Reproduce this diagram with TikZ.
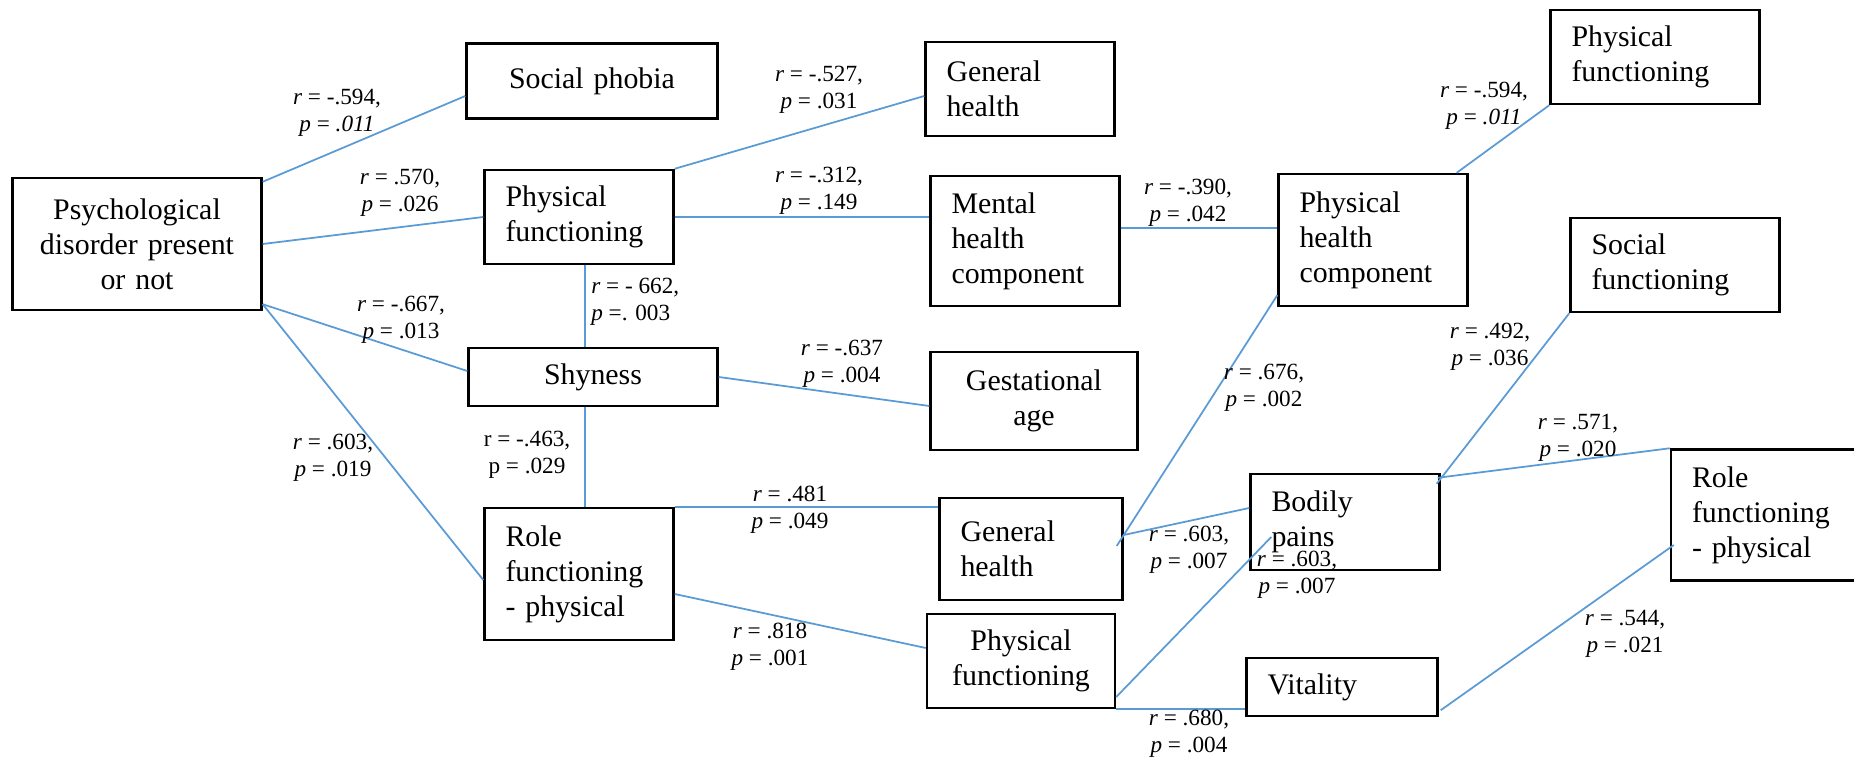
\documentclass[tikz,border=0pt]{standalone}
\usepackage{fontspec}
\setmainfont{Liberation Serif}
\usepackage{xcolor}
\usepackage{tikz}
\usetikzlibrary{positioning}
\definecolor{azul}{HTML}{5B9BD5}

\tikzset{
    caixa/.style={draw, line width=1.4pt, inner xsep=0.42cm, inner ysep=0pt, font=\fontsize{17}{19.9}\selectfont},
    esq/.style={caixa, align=left},
    cen/.style={caixa, align=center},
    rotulo/.style={inner sep=0pt, align=center, font=\fontsize{13.2}{15.3}\selectfont},
    ligacao/.style={azul, line width=1pt}
}

\begin{document}
\begin{tikzpicture}[x=0.02cm, y=-0.02cm]
            % Area da figura
            \useasboundingbox (0,0) rectangle (1854,759);
            \clip (0,0) rectangle (1854,759);

            % Caixas
            \node[cen, text width=4.14cm, minimum height=2.64cm] (psych) at (137,244) {Psychological\\disorder present\\or not};
            \node[cen, text width=4.18cm, minimum height=1.5cm] (social) at (592,81) {Social phobia};
            \node[esq, text width=2.94cm, minimum height=1.88cm] (pf1) at (579,217) {Physical\\functioning};
            \node[cen, text width=4.14cm, minimum height=1.16cm] (shy) at (593,377) {Shyness};
            \node[esq, text width=2.94cm, minimum height=2.64cm] (rfp1) at (579,574) {Role\\functioning\\- physical};
            \node[esq, text width=2.94cm, minimum height=1.88cm] (gh1) at (1020,89) {General\\health};
            \node[esq, text width=2.94cm, minimum height=2.6cm] (mhc) at (1025,241) {Mental\\health\\component};
            \node[cen, text width=3.3cm, minimum height=1.96cm] (ga) at (1034,401) {Gestational\\age};
            \node[esq, text width=2.82cm, minimum height=2.04cm] (gh2) at (1031,549) {General\\health};
            \node[cen, text width=2.92cm, minimum height=1.88cm] (pf2) at (1021,661) {Physical\\functioning};
            \node[esq, text width=2.94cm, minimum height=2.64cm] (phc) at (1373,240) {Physical\\health\\component};
            \node[esq, text width=3.34cm, minimum height=1.88cm] (pf3) at (1655,57) {Physical\\functioning};
            \node[esq, text width=3.34cm, minimum height=1.88cm] (sf) at (1675,265) {Social\\functioning};
            \node[esq, text width=2.94cm, minimum height=1.92cm] (bp) at (1345,522) {Bodily\\pains};
            \node[esq, text width=2.98cm, minimum height=1.16cm] (vit) at (1342,687) {Vitality};
            \node[esq, text width=2.96cm, minimum height=2.62cm] (rfp2) at (1766,515) {Role\\functioning\\- physical};

            % Pontos auxiliares
            \coordinate (m1) at ([shift={(0,-13)}]mhc.east);
            \coordinate (bpin) at ([shift={(22,15)}]bp.west);

            % Ligacoes
            \draw[ligacao] ([shift={(0,5)}]psych.north east) -- ([shift={(0,15)}]social.west);
            \draw[ligacao] (psych.east) -- (pf1.west);
            \draw[ligacao] ([shift={(0,-7)}]psych.south east) -- ([shift={(0,-6)}]shy.west);
            \draw[ligacao] ([shift={(0,-7)}]psych.south east) -- ([shift={(0,6)}]rfp1.west);
            \draw[ligacao] (pf1.north east) -- ([shift={(0,7)}]gh1.west);
            \draw[ligacao] (pf1.east) -- (pf1.east -| mhc.west);
            \draw[ligacao] ([shift={(6,0)}]pf1.south) -- ([shift={(6,0)}]shy.north -| pf1.south);
            \draw[ligacao] ([shift={(6,0)}]shy.south -| rfp1.north) -- ([shift={(6,0)}]rfp1.north);
            \draw[ligacao] (shy.east) -- ([shift={(0,5)}]ga.west);
            \draw[ligacao] (m1) -- (m1 -| phc.west);
            \draw[ligacao] ([shift={(-12,0)}]phc.north east) -- (pf3.south west);
            \draw[ligacao] ([shift={(-7,-3)}]gh2.east) -- ([shift={(0,-12)}]phc.south west);
            \draw[ligacao] ([shift={(0,-14)}]gh2.east) -- ([shift={(0,-14)}]bp.west);
            \draw[ligacao] (rfp1.north east) -- (rfp1.north east -| gh2.west);
            \draw[ligacao] ([shift={(0,20)}]rfp1.east) -- ([shift={(0,-13)}]pf2.west);
            \draw[ligacao] ([shift={(0,36)}]pf2.east) -- (bpin);
            \draw[ligacao] (pf2.south east) -- (pf2.south east -| vit.west);
            \draw[ligacao] ([shift={(-4,11)}]bp.north east) -- (sf.south west);
            \draw[ligacao] ([shift={(-3,5)}]bp.north east) -- (rfp2.north west);
            \draw[ligacao] ([shift={(2,-7)}]vit.south east) -- ([shift={(4,30)}]rfp2.west);

            % Valores de r e p
            \node[rotulo] (l-ps) at (337,113) {\textit{r} = -.594,\\\textit{p} = \textit{.011}};
            \node[rotulo] (l-pf) at (400,193) {\textit{r} = .570,\\\textit{p} = .026};
            \node[rotulo] (l-sh) at (401,320) {\textit{r} = -.667,\\\textit{p} = .013};
            \node[rotulo] (l-rf) at (333,458) {\textit{r} = .603,\\\textit{p} = .019};
            \node[rotulo, align=left, anchor=west] (l-pfsh) at (591,302) {\textit{r} = - 662,\\\textit{p} =. 003};
            \node[rotulo] (l-shrf) at (527,455) {r = -.463,\\p = .029};
            \node[rotulo] (l-gh1) at (819,90) {\textit{r} = -.527,\\\textit{p} = .031};
            \node[rotulo] (l-mhc) at (819,191) {\textit{r} = -.312,\\\textit{p} = .149};
            \node[rotulo] (l-phc) at (1188,203) {\textit{r} = -.390,\\\textit{p} = .042};
            \node[rotulo] (l-ga) at (842,364) {\textit{r} = -.637\\\textit{p} = .004};
            \node[rotulo] (l-ghphc) at (1264,388) {\textit{r} = .676,\\\textit{p} = .002};
            \node[rotulo] (l-gh2) at (790,510) {\textit{r} = .481\\\textit{p} = .049};
            \node[rotulo] (l-bp1) at (1189,550) {\textit{r} = .603,\\\textit{p} = .007};
            \node[rotulo] (l-bp2) at (1297,575) {\textit{r} = .603,\\\textit{p} = .007};
            \node[rotulo] (l-pf2) at (770,647) {\textit{r} = .818\\\textit{p} = .001};
            \node[rotulo] (l-vit) at (1189,734) {\textit{r} = .680,\\\textit{p} = .004};
            \node[rotulo] (l-pf3) at (1484,106) {\textit{r} = -.594,\\\textit{p} = \textit{.011}};
            \node[rotulo] (l-sf) at (1490,347) {\textit{r} = .492,\\\textit{p} = .036};
            \node[rotulo] (l-rf2) at (1578,438) {\textit{r} = .571,\\\textit{p} = .020};
            \node[rotulo] (l-rf2b) at (1625,634) {\textit{r} = .544,\\\textit{p} = .021};
        \end{tikzpicture}
\end{document}
